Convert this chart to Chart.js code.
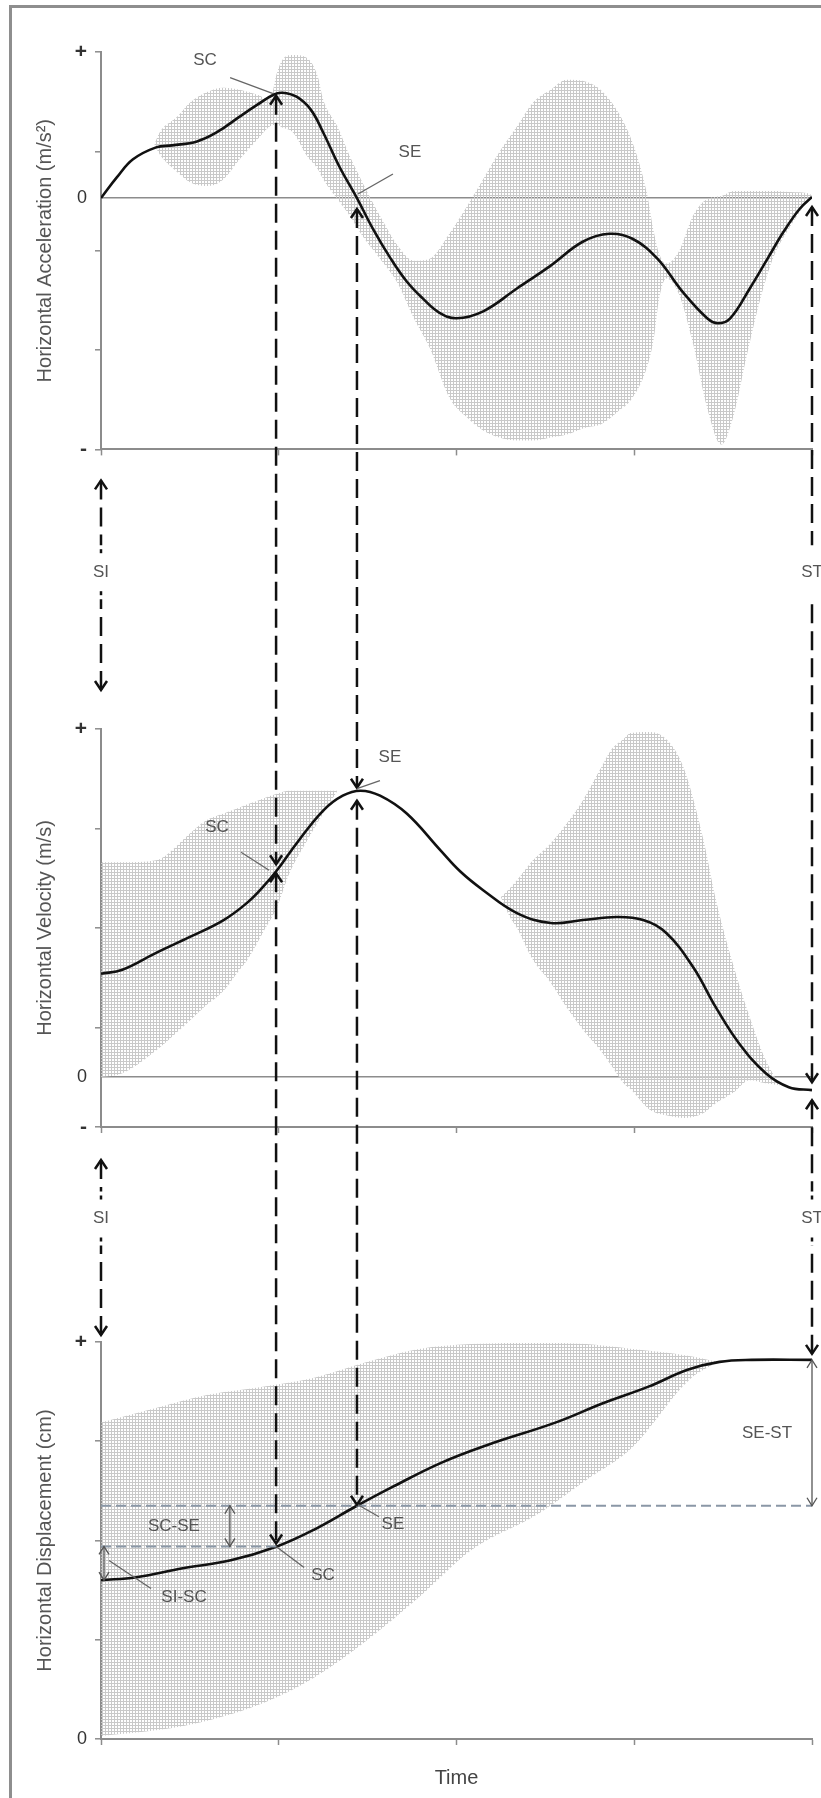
<!DOCTYPE html>
<html>
<head>
<meta charset="utf-8">
<title>Horizontal acceleration, velocity and displacement</title>
<script src="https://cdn.jsdelivr.net/npm/chart.js@4.4.1/dist/chart.umd.min.js"></script>
<style>
html, body { margin: 0; padding: 0; background: #fff; }
#page { position: relative; width: 821px; height: 1798px; overflow: hidden; background: #fff; }
#frame { position: absolute; left: 9px; top: 5px; width: 900px; height: 1900px;
         border-left: 3px solid #8e8e8e; border-top: 3px solid #8e8e8e; }
canvas { position: absolute; left: 0; }
</style>
</head>
<body>
<div id="page">
  <div id="frame"></div>
  <canvas id="accChart" width="821" height="470" style="top:0px"></canvas>
  <canvas id="velChart" width="821" height="470" style="top:680px"></canvas>
  <canvas id="dispChart" width="821" height="508" style="top:1290px"></canvas>
  <canvas id="overlay" width="821" height="1798" style="top:0px"></canvas>
</div>
<script>
// ================= DATA =================

const timeTicks = [0, 1, 2, 3, 4];

// horizontal acceleration (mean curve + SD band)
const accTime = [0, 0.09, 0.18, 0.31, 0.40, 0.54, 0.65, 0.78, 0.88, 0.97,
                 1.02, 1.10, 1.18, 1.25, 1.34, 1.44, 1.53, 1.63, 1.72, 1.81,
                 1.90, 2.00, 2.15, 2.34, 2.53, 2.71, 2.86, 2.99, 3.13, 3.27,
                 3.41, 3.47, 3.54, 3.65, 3.75, 3.84, 3.93, 4.00];
const accMean = [0, 0.42, 0.78, 1.02, 1.06, 1.14, 1.32, 1.64, 1.88, 2.08,
                 2.12, 2.04, 1.78, 1.32, 0.64, 0, -0.62, -1.22, -1.68, -2.02,
                 -2.30, -2.42, -2.28, -1.82, -1.36, -0.88, -0.72, -0.82, -1.22, -1.88,
                 -2.42, -2.52, -2.42, -1.82, -1.22, -0.68, -0.22, 0.02];
const accBandTime = [0.30, 0.33, 0.43, 0.50, 0.60, 0.69, 0.78, 0.88, 0.95, 0.99,
                     1.02, 1.08, 1.16, 1.22, 1.25, 1.33, 1.40, 1.47, 1.57, 1.67,
                     1.76, 1.85, 1.96, 2.06, 2.15, 2.24, 2.34, 2.43, 2.53, 2.62,
                     2.73, 2.81, 2.90, 2.99, 3.07, 3.11, 3.14, 3.18, 3.25, 3.33,
                     3.41, 3.49, 3.56, 3.63, 3.71, 3.78, 3.88, 3.97, 4.00];
const accUpper = [1.08, 1.32, 1.64, 1.92, 2.14, 2.22, 2.18, 2.08, 1.98, 2.52,
                  2.78, 2.88, 2.82, 2.44, 1.98, 1.44, 0.84, 0.32, -0.36, -0.96,
                  -1.26, -1.22, -0.72, -0.16, 0.38, 0.92, 1.44, 1.92, 2.18, 2.38,
                  2.34, 2.18, 1.78, 1.12, 0.12, -0.68, -1.12, -1.32, -1.08, -0.36,
                  -0.02, 0.04, 0.14, 0.14, 0.14, 0.14, 0.12, 0.10, 0.06];
const accLower = [1.08, 0.88, 0.52, 0.32, 0.24, 0.38, 0.78, 1.18, 1.44, 1.48,
                  1.42, 1.32, 0.84, 0.58, 0.38, -0.02, -0.36, -0.76, -1.22, -1.72,
                  -2.42, -3.02, -4.02, -4.42, -4.68, -4.82, -4.88, -4.88, -4.82, -4.76,
                  -4.62, -4.56, -4.32, -4.02, -3.42, -2.82, -2.02, -1.62, -1.92, -2.92,
                  -4.22, -4.96, -4.36, -3.22, -2.02, -1.22, -0.56, -0.08, 0.06];
const accTicks = [2.94, 0.94, 0, -1.06, -3.06, -5.06];

// horizontal velocity
const velTime = [0, 0.12, 0.31, 0.50, 0.69, 0.82, 0.91, 0.99, 1.10, 1.25,
                 1.36, 1.46, 1.57, 1.72, 1.91, 2.02, 2.15, 2.34, 2.53, 2.71,
                 2.90, 3.05, 3.18, 3.33, 3.46, 3.59, 3.74, 3.87, 4.00];
const velMean = [1.04, 1.08, 1.25, 1.41, 1.58, 1.75, 1.91, 2.08, 2.35, 2.68,
                 2.83, 2.88, 2.83, 2.65, 2.28, 2.07, 1.88, 1.65, 1.55, 1.58,
                 1.61, 1.58, 1.45, 1.11, 0.70, 0.34, 0.04, -0.10, -0.13];
const velBandTime = [0, 0.12, 0.31, 0.50, 0.59, 0.69, 0.78, 0.82, 0.91, 0.99,
                     1.06, 1.16, 1.25, 1.33, 1.80, 2.25, 2.30, 2.34, 2.43, 2.53,
                     2.62, 2.71, 2.81, 2.87, 2.94, 2.98, 3.09, 3.20, 3.28, 3.39,
                     3.46, 3.56, 3.65, 3.74, 3.82];
const velUpper = [2.16, 2.16, 2.18, 2.45, 2.58, 2.65, 2.71, 2.74, 2.80, 2.85,
                  2.88, 2.88, 2.88, 2.88, null, 1.81, 1.90, 1.98, 2.18, 2.35,
                  2.55, 2.78, 3.10, 3.29, 3.40, 3.46, 3.47, 3.36, 3.10, 2.38,
                  1.78, 1.11, 0.60, 0.17, -0.08];
const velLower = [0.00, 0.04, 0.27, 0.57, 0.72, 0.87, 1.08, 1.17, 1.45, 1.71,
                  2.05, 2.38, 2.65, 2.88, null, 1.81, 1.61, 1.50, 1.18, 0.95,
                  0.70, 0.48, 0.27, 0.12, -0.06, -0.12, -0.33, -0.39, -0.41, -0.36,
                  -0.26, -0.15, -0.03, -0.06, -0.08];
const velTicks = [3.5, 2.5, 1.5, 0.5, 0, -0.5];

// horizontal displacement
const dispTime = [0, 0.20, 0.46, 0.73, 0.99, 1.20, 1.44, 1.64, 1.91, 2.17,
                  2.56, 2.82, 3.08, 3.30, 3.48, 3.66, 4.00];
const dispMean = [1.60, 1.63, 1.72, 1.80, 1.94, 2.11, 2.35, 2.54, 2.78, 2.96,
                  3.19, 3.38, 3.55, 3.72, 3.80, 3.82, 3.82];
const dispBandTime = [0, 0.32, 0.61, 0.91, 1.20, 1.50, 1.79, 2.08, 2.47, 2.73, 2.99, 3.31, 3.47];
const dispUpper = [3.19, 3.34, 3.47, 3.55, 3.64, 3.80, 3.93, 3.98, 3.99, 3.98, 3.93, 3.86, 3.80];
const dispLower = [0.03, 0.09, 0.19, 0.36, 0.62, 1.00, 1.43, 1.90, 2.28, 2.61, 2.94, 3.62, 3.80];
const dispTicks = [4, 3, 2, 1, 0];

// events: initiation, contact, end, termination
const eventNames = ['SI', 'SC', 'SE', 'ST'];
const eventTimes = [0, 0.985, 1.44, 4];
const accAtEvents = [0, 2.1, 0, 0.02];
const velAtEvents = [1.04, 2.08, 2.88, -0.13];
const dispAtEvents = [1.60, 1.94, 2.35, 3.82];

// ================= STYLE =================

const FONT = "'Liberation Sans', Arial, Helvetica, sans-serif";
const AXIS_GREY = '#8c8c8c';
const TEXT_GREY = '#555555';
const NONE = 'rgba(0,0,0,0)';

function xy(times, values) {
    return times.map((t, i) => ({ x: t, y: values[i] }));
}

function hatch(ctx) {
    const tile = document.createElement('canvas');
    tile.width = 3;
    tile.height = 3;
    const g = tile.getContext('2d');
    g.fillStyle = '#c9c9c9';
    g.fillRect(0, 0, 3, 1);
    g.fillRect(0, 0, 1, 3);
    return ctx.createPattern(tile, 'repeat');
}

// ================= PANELS =================

function makePanel(id, cfg) {
    const ctx = document.getElementById(id).getContext('2d');
    const pattern = hatch(ctx);

    const datasets = [
        {
            data: xy(cfg.bandTime, cfg.lower),
            borderColor: NONE, borderWidth: 0, pointRadius: 0,
            fill: false, cubicInterpolationMode: 'monotone', order: 2
        },
        {
            data: xy(cfg.bandTime, cfg.upper),
            borderColor: NONE, borderWidth: 0, pointRadius: 0,
            fill: '-1', backgroundColor: pattern,
            cubicInterpolationMode: 'monotone', order: 2
        },
        {
            data: xy(cfg.time, cfg.mean),
            borderColor: '#111', borderWidth: 2.6, pointRadius: 0,
            fill: false, tension: 0.4, order: 0
        }
    ];

    const yMin = cfg.ticks[cfg.ticks.length - 1];
    const yMax = cfg.ticks[0];
    const isSign = v => v === yMax || (v === yMin && v !== 0);

    return new Chart(ctx, {
        type: 'line',
        data: { datasets: datasets },
        options: {
            responsive: false,
            animation: false,
            events: [],
            layout: { padding: { top: cfg.padTop, right: 9, bottom: 0, left: 0 } },
            plugins: { legend: { display: false }, tooltip: { enabled: false } },
            scales: {
                x: {
                    type: 'linear', min: 0, max: 4,
                    afterBuildTicks: axis => { axis.ticks = timeTicks.map(v => ({ value: v })); },
                    afterFit: axis => { axis.height = cfg.xHeight; },
                    ticks: { display: false },
                    grid: {
                        drawOnChartArea: false, drawTicks: true, tickLength: 6,
                        tickColor: AXIS_GREY, tickWidth: 1.5
                    },
                    border: { display: true, color: AXIS_GREY, width: 2 },
                    title: {
                        display: !!cfg.xTitle, text: cfg.xTitle || '',
                        color: '#444', font: { family: FONT, size: 20 },
                        padding: { top: 0, bottom: 8 }
                    }
                },
                y: {
                    type: 'linear', min: yMin, max: yMax,
                    afterBuildTicks: axis => { axis.ticks = cfg.ticks.map(v => ({ value: v })); },
                    afterFit: axis => { axis.width = 101; },
                    ticks: {
                        autoSkip: false, color: '#333', padding: 8,
                        font: c => (c.tick && isSign(c.tick.value))
                            ? { family: FONT, size: 21, weight: 'bold' }
                            : { family: FONT, size: 18 },
                        callback: v => v === yMax ? '+' : v === 0 ? '0' : v === yMin ? '-' : ''
                    },
                    grid: {
                        color: c => (c.tick && c.tick.value === 0 && cfg.zeroLine) ? AXIS_GREY : NONE,
                        lineWidth: 1.6,
                        tickColor: c => (c.tick && c.tick.value === 0 && cfg.zeroLine) ? NONE : AXIS_GREY,
                        tickLength: 6, tickWidth: 1.5
                    },
                    border: { color: AXIS_GREY, width: 2 },
                    title: {
                        display: true, text: cfg.yTitle, color: TEXT_GREY,
                        font: { family: FONT, size: 20 },
                        padding: { top: 33, bottom: 0 }
                    }
                }
            }
        }
    });
}

const accChart = makePanel('accChart', {
    time: accTime, mean: accMean, bandTime: accBandTime, upper: accUpper, lower: accLower,
    ticks: accTicks, zeroLine: true, padTop: 52, xHeight: 18,
    yTitle: 'Horizontal Acceleration (m/s²)'
});

const velChart = makePanel('velChart', {
    time: velTime, mean: velMean, bandTime: velBandTime, upper: velUpper, lower: velLower,
    ticks: velTicks, zeroLine: true, padTop: 49, xHeight: 23,
    yTitle: 'Horizontal Velocity (m/s)'
});

const dispChart = makePanel('dispChart', {
    time: dispTime, mean: dispMean, bandTime: dispBandTime, upper: dispUpper, lower: dispLower,
    ticks: dispTicks, zeroLine: false, padTop: 52, xHeight: 59,
    yTitle: 'Horizontal Displacement (cm)', xTitle: 'Time'
});

// ================= EVENT ARROWS AND LABELS =================

function drawOverlay() {
    const o = document.getElementById('overlay').getContext('2d');
    const tops = { acc: 0, vel: 680, disp: 1290 };

    const at = (chart, top, vals) => eventTimes.map((t, i) => ({
        x: chart.scales.x.getPixelForValue(t),
        y: top + chart.scales.y.getPixelForValue(vals[i])
    }));
    const A = at(accChart, tops.acc, accAtEvents);
    const V = at(velChart, tops.vel, velAtEvents);
    const D = at(dispChart, tops.disp, dispAtEvents);
    const xAt = t => dispChart.scales.x.getPixelForValue(t);

    const accBottom = tops.acc + accChart.chartArea.bottom;
    const velTop = tops.vel + velChart.chartArea.top;
    const velBottom = tops.vel + velChart.chartArea.bottom;
    const dispTop = tops.disp + dispChart.chartArea.top;
    const gap1 = (accBottom + velTop) / 2 - 17;
    const gap2 = (velBottom + dispTop) / 2 - 16;

    function line(x1, y1, x2, y2) {
        o.beginPath();
        o.moveTo(x1, y1);
        o.lineTo(x2, y2);
        o.stroke();
    }
    function chevron(x, y, dir, w, len) {
        o.save();
        o.setLineDash([]);
        o.beginPath();
        o.moveTo(x - w, y - dir * len);
        o.lineTo(x, y);
        o.lineTo(x + w, y - dir * len);
        o.stroke();
        o.restore();
    }
    function text(str, x, y) {
        o.save();
        o.fillStyle = TEXT_GREY;
        o.font = '17px ' + FONT;
        o.textAlign = 'center';
        o.textBaseline = 'middle';
        o.fillText(str, x, y);
        o.restore();
    }
    function leader(x1, y1, x2, y2) {
        o.save();
        o.strokeStyle = '#666';
        o.lineWidth = 1.3;
        line(x1, y1, x2, y2);
        o.restore();
    }

    // -- displacement panel helpers: dashed levels and thin double arrows
    o.save();
    o.strokeStyle = '#8a97a6';
    o.lineWidth = 2;
    o.setLineDash([10, 5]);
    line(A[0].x, D[2].y, D[3].x, D[2].y);
    line(A[0].x, D[1].y, D[1].x, D[1].y);
    o.restore();

    function thinDouble(x, y1, y2) {
        o.save();
        o.strokeStyle = '#555';
        o.lineWidth = 1.3;
        line(x, y1, x, y2);
        chevron(x, y1, -1, 5, 8);
        chevron(x, y2, 1, 5, 8);
        o.restore();
    }
    const xSISC = D[0].x + 3;
    thinDouble(xSISC, D[1].y, D[0].y);
    const xSCSE = xAt(0.725);
    thinDouble(xSCSE, D[2].y, D[1].y);
    thinDouble(D[3].x, D[3].y, D[2].y);

    text('SC-SE', xSCSE - 56, (D[1].y + D[2].y) / 2);
    text('SE-ST', D[3].x - 45, (D[2].y + D[3].y) / 2);
    leader(xSISC + 5, D[1].y + 14, xSISC + 47, D[1].y + 42);
    text('SI-SC', xSISC + 80, D[1].y + 51);

    // -- main dashed event arrows
    o.strokeStyle = '#111';
    o.lineWidth = 2.5;

    function dashed(x, y1, y2) {
        o.save();
        o.setLineDash([19, 8]);
        line(x, y1, x, y2);
        o.restore();
    }
    function arrow(x, yTop, yBot) {
        dashed(x, yTop, yBot);
        chevron(x, yTop, -1, 6, 9);
        chevron(x, yBot, 1, 6, 9);
    }
    function labelledArrow(x, yTop, yBot, labelY, name, dots) {
        dashed(x, yTop, labelY - 27);
        dashed(x, yBot, labelY + 27);
        if (dots) {
            line(x, labelY - 23, x, labelY - 19);
            line(x, labelY + 19, x, labelY + 23);
        }
        text(name, x, labelY);
        chevron(x, yTop, -1, 6, 9);
        chevron(x, yBot, 1, 6, 9);
    }

    // SC
    arrow(A[1].x, A[1].y + 2, V[1].y - 6);
    arrow(V[1].x, V[1].y + 3, D[1].y - 3);
    // SE
    arrow(A[2].x, A[2].y + 11, V[2].y - 3);
    arrow(V[2].x, V[2].y + 10, D[2].y - 1);
    // ST
    labelledArrow(A[3].x, A[3].y + 10, V[3].y - 8, gap1, eventNames[3], false);
    labelledArrow(V[3].x, V[3].y + 10, D[3].y - 6, gap2, eventNames[3], true);
    // SI
    labelledArrow(A[0].x, accBottom + 31, velTop - 39, gap1, eventNames[0], true);
    labelledArrow(V[0].x, velBottom + 33, dispTop - 7, gap2, eventNames[0], true);

    // -- curve labels with leader lines
    leader(A[1].x - 3, A[1].y, A[1].x - 46, A[1].y - 16);
    text('SC', A[1].x - 71, A[1].y - 33);
    leader(A[2].x + 1, A[2].y - 4, A[2].x + 36, A[2].y - 24);
    text('SE', A[2].x + 53, A[2].y - 46);

    leader(V[1].x - 7, V[1].y, V[1].x - 35, V[1].y - 18);
    text('SC', V[1].x - 59, V[1].y - 43);
    leader(V[2].x, V[2].y - 2, V[2].x + 23, V[2].y - 10);
    text('SE', V[2].x + 33, V[2].y - 33);

    leader(D[1].x, D[1].y, D[1].x + 28, D[1].y + 21);
    text('SC', D[1].x + 47, D[1].y + 29);
    leader(D[2].x + 1, D[2].y - 1, D[2].x + 22, D[2].y + 11);
    text('SE', D[2].x + 36, D[2].y + 19);
}

drawOverlay();
</script>
</body>
</html>
